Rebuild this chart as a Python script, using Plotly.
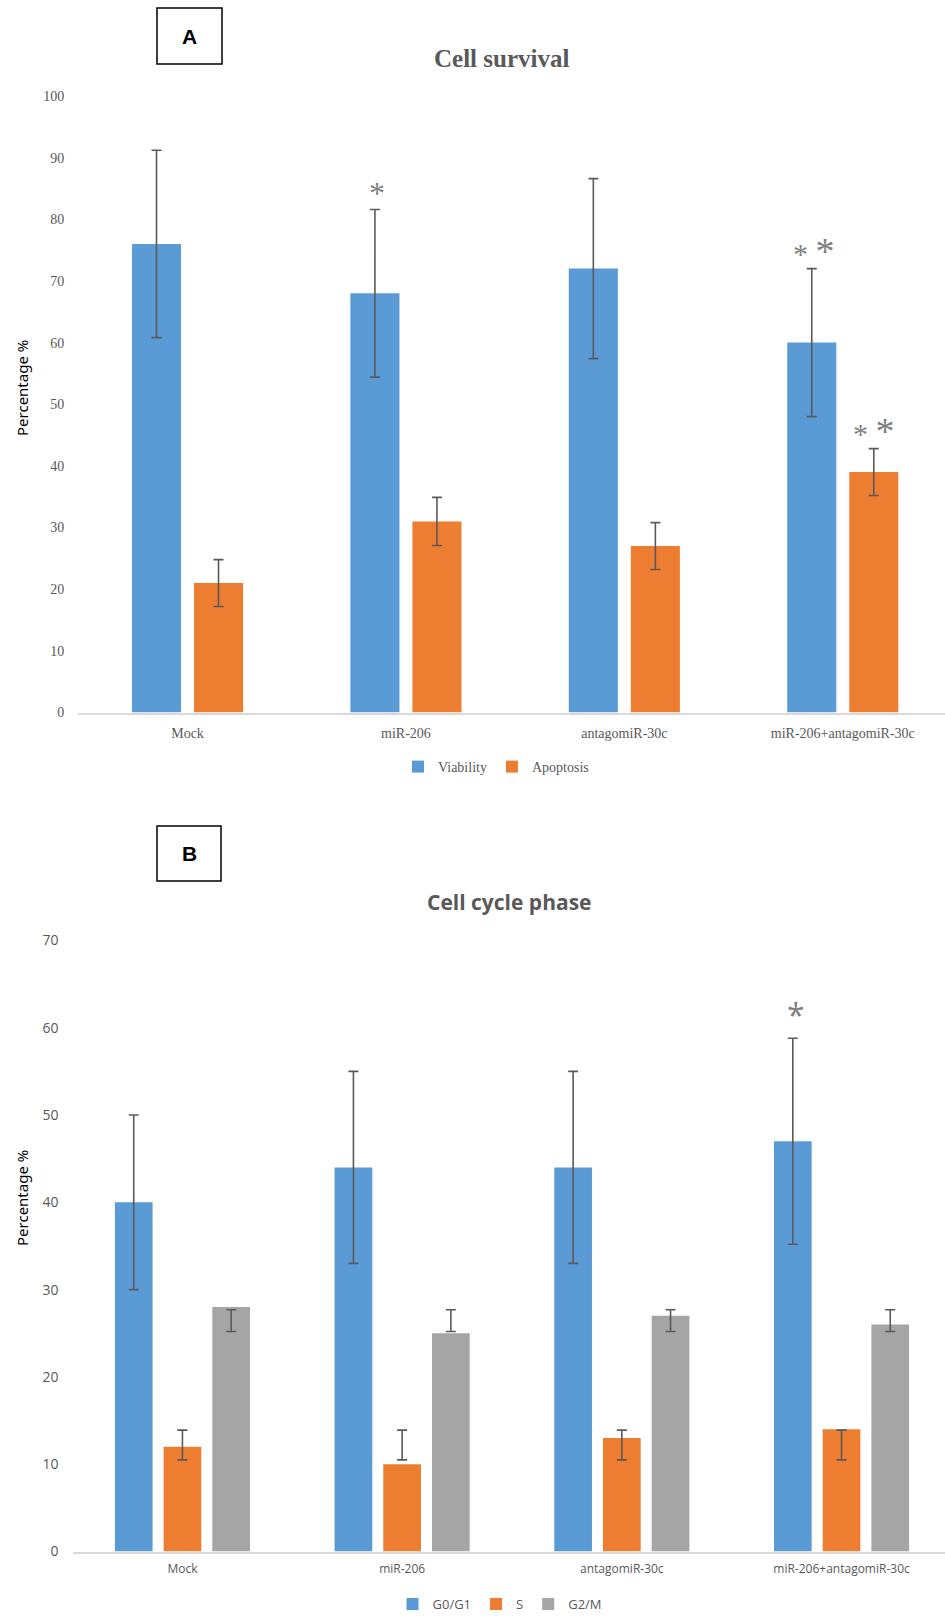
import plotly.graph_objects as go

W, H = 945, 1619

def px(x):
    return x / W

def py(y):
    return 1 - y / H

# ---------------- Data ----------------
categories = ["Mock", "miR-206", "antagomiR-30c", "miR-206+antagomiR-30c"]

# Panel A: Cell survival
viability = [76, 68, 72, 60]
viability_err = [15.2, 13.6, 14.6, 12.0]
apoptosis = [21, 31, 27, 39]
apoptosis_err = [3.8, 3.9, 3.8, 3.8]

# Panel B: Cell cycle phase
g0g1 = [40, 44, 44, 47]
g0g1_err = [10, 11, 11, 11.8]
s_phase = [12, 10, 13, 14]
s_err_low = [10.5, 10.5, 10.5, 10.5]     # lower cap of error bar (absolute)
s_err_high = [13.9, 13.9, 13.9, 13.9]    # upper cap of error bar (absolute)
g2m = [28, 25, 27, 26]
g2m_err_low = [25.2, 25.2, 25.2, 25.2]
g2m_err_high = [27.7, 27.7, 27.7, 27.7]

y_ticks_a = [0, 10, 20, 30, 40, 50, 60, 70, 80, 90, 100]
y_ticks_b = [0, 10, 20, 30, 40, 50, 60, 70]

# ---------------- Styles ----------------
BLUE = "#5B9BD5"
ORANGE = "#ED7D31"
GRAY = "#A5A5A5"
ERR = "#5A5A5A"
TXT = "#595959"
SERIF = "Liberation Serif, Times New Roman, serif"
SANS = "Open Sans, Noto Sans, sans-serif"

fig = go.Figure()

err_style = dict(color=ERR, thickness=1.6, width=5)

# Panel A
wA = 0.2246
fig.add_trace(go.Bar(
    x=categories, y=viability, name="Viability", marker_color=BLUE,
    marker_line_width=0, width=wA, offset=-0.2543,
    error_y=dict(type="data", array=viability_err, **err_style),
    xaxis="x", yaxis="y", legend="legend"))
fig.add_trace(go.Bar(
    x=categories, y=apoptosis, name="Apoptosis", marker_color=ORANGE,
    marker_line_width=0, width=wA, offset=0.0297,
    error_y=dict(type="data", array=apoptosis_err, **err_style),
    xaxis="x", yaxis="y", legend="legend"))

# Panel B
wB = 0.1716
dB = 0.2217
fig.add_trace(go.Bar(
    x=categories, y=g0g1, name="G0/G1", marker_color=BLUE,
    marker_line_width=0, width=wB, offset=-dB - wB / 2,
    error_y=dict(type="data", array=g0g1_err, **err_style),
    xaxis="x2", yaxis="y2", legend="legend2"))
fig.add_trace(go.Bar(
    x=categories, y=s_phase, name="S", marker_color=ORANGE,
    marker_line_width=0, width=wB, offset=-wB / 2,
    error_y=dict(type="data", symmetric=False,
                 array=[h - v for h, v in zip(s_err_high, s_phase)],
                 arrayminus=[v - l for l, v in zip(s_err_low, s_phase)],
                 **err_style),
    xaxis="x2", yaxis="y2", legend="legend2"))
fig.add_trace(go.Bar(
    x=categories, y=g2m, name="G2/M", marker_color=GRAY,
    marker_line_width=0, width=wB, offset=dB - wB / 2,
    error_y=dict(type="data", symmetric=False,
                 array=[h - v for h, v in zip(g2m_err_high, g2m)],
                 arrayminus=[v - l for l, v in zip(g2m_err_low, g2m)],
                 **err_style),
    xaxis="x2", yaxis="y2", legend="legend2"))

axis_common = dict(showgrid=False, zeroline=False, ticks="", fixedrange=True,
                   automargin=False)

fig.update_layout(
    width=W, height=H,
    margin=dict(l=0, r=0, t=0, b=0, autoexpand=False),
    paper_bgcolor="white", plot_bgcolor="white",
    barmode="overlay",
    xaxis=dict(domain=[px(78.3), 1.0], range=[-0.5, 3.468], anchor="y",
               showline=True, linecolor="#D9D9D9", linewidth=1.5,
               tickfont=dict(family=SERIF, size=14, color=TXT),
               ticklabelstandoff=7, **axis_common),
    yaxis=dict(domain=[py(712.5), py(96)], range=[0, 100], anchor="x",
               tickvals=y_ticks_a, showline=False,
               tickfont=dict(family=SERIF, size=14, color=TXT),
               ticklabelstandoff=13, **axis_common),
    xaxis2=dict(domain=[px(72.6), 1.0], range=[-0.5, 3.471], anchor="y2",
                showline=True, linecolor="#D9D9D9", linewidth=1.5,
                tickfont=dict(family=SANS, size=12, color=TXT),
                ticklabelstandoff=5, **axis_common),
    yaxis2=dict(domain=[py(1551.5), py(940.4)], range=[0, 70], anchor="x2",
                tickvals=y_ticks_b, showline=False,
                tickfont=dict(family=SANS, size=14, color=TXT),
                ticklabelstandoff=13, **axis_common),
    legend=dict(orientation="h", x=px(496), xanchor="center",
                y=py(767), yanchor="middle",
                font=dict(family=SERIF, size=14, color=TXT),
                itemwidth=30, bgcolor="rgba(0,0,0,0)"),
    legend2=dict(orientation="h", x=px(500), xanchor="center",
                 y=0.0, yanchor="bottom",
                 font=dict(family=SANS, size=13, color=TXT),
                 itemwidth=30, bgcolor="rgba(0,0,0,0)"),
    showlegend=True,
)

# Panel label boxes
for (x0, y0, x1, y1, lab) in [(157, 8, 222, 64, "A"), (157, 826, 221, 881, "B")]:
    fig.add_shape(type="rect", xref="paper", yref="paper",
                  x0=px(x0), x1=px(x1), y0=py(y1), y1=py(y0),
                  line=dict(color="black", width=1.5), fillcolor="white")
    fig.add_annotation(xref="paper", yref="paper", x=px((x0 + x1) / 2),
                       y=py((y0 + y1) / 2), text="<b>%s</b>" % lab, showarrow=False,
                       font=dict(family="Liberation Sans, Arial, sans-serif", size=21, color="black"),
                       xanchor="center", yanchor="middle")

# Titles
fig.add_annotation(xref="paper", yref="paper", x=px(501), y=py(59),
                   text="<b>Cell survival</b>", showarrow=False,
                   font=dict(family=SERIF, size=25, color=TXT),
                   xanchor="center", yanchor="middle")
fig.add_annotation(xref="paper", yref="paper", x=px(509), y=py(902),
                   text="<b>Cell cycle phase</b>", showarrow=False,
                   font=dict(family=SANS, size=21, color=TXT),
                   xanchor="center", yanchor="middle")

# Y axis titles
fig.add_annotation(xref="paper", yref="paper", x=px(22), y=py(388),
                   text="Percentage %", textangle=-90, showarrow=False,
                   font=dict(family="Noto Sans, sans-serif", size=15, color="black"),
                   xanchor="center", yanchor="middle")
fig.add_annotation(xref="paper", yref="paper", x=px(22), y=py(1198),
                   text="Percentage %", textangle=-90, showarrow=False,
                   font=dict(family="Noto Sans, sans-serif", size=15, color="black"),
                   xanchor="center", yanchor="middle")

# Significance marks
STAR = "#7F7F7F"
fig.add_annotation(xref="x", yref="y", x=categories[1], xshift=-29,
                   y=viability[1] + viability_err[1], yshift=16,
                   text="*", showarrow=False,
                   font=dict(family=SERIF, size=32, color=STAR), yanchor="middle")
fig.add_annotation(xref="x", yref="y", x=categories[3], xshift=-29,
                   y=viability[3] + viability_err[3], yshift=18,
                   text="* <span style='font-size:38px'>*</span>", showarrow=False,
                   font=dict(family=SERIF, size=30, color=STAR), yanchor="middle")
fig.add_annotation(xref="x", yref="y", x=categories[3], xshift=31,
                   y=apoptosis[3] + apoptosis_err[3], yshift=18,
                   text="* <span style='font-size:38px'>*</span>", showarrow=False,
                   font=dict(family=SERIF, size=30, color=STAR), yanchor="middle")
fig.add_annotation(xref="x2", yref="y2", x=categories[3], xshift=-46,
                   y=g0g1[3] + g0g1_err[3], yshift=24,
                   text="*", showarrow=False,
                   font=dict(family=SANS, size=32, color=STAR), yanchor="middle")

fig.write_html("out.html", config={"displayModeBar": False},
               post_script="document.body.style.margin='0';")
